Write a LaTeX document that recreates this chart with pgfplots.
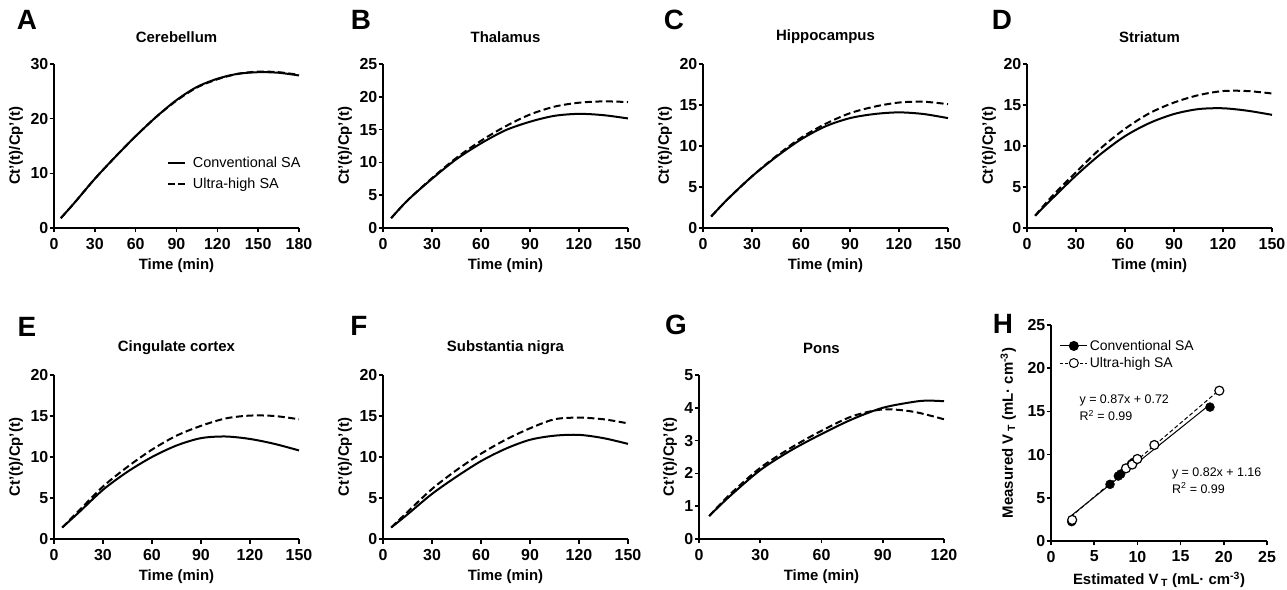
\documentclass[border=0pt]{standalone}
\usepackage{fontspec}
\setmainfont{Liberation Sans}
\usepackage{pgfplots}
\pgfplotsset{compat=1.18}

\newcommand\tickfont{\fontsize{16}{19}\selectfont\bfseries}
\newcommand\labfont{\fontsize{15}{18}\selectfont\bfseries}
\newcommand\legfont{\fontsize{14.5}{17}\selectfont}
\newcommand\letfont{\fontsize{28}{32}\selectfont\bfseries}

\pgfplotsset{
  panel/.style={
    scale only axis, width=245bp, height=164bp,
    anchor=south west,
    axis lines=left, axis line style={-, line width=1.8bp},
    tick align=outside, major tick length=4.5bp,
    tick style={line width=1.6bp, black},
    /pgf/number format/assume math mode=true,
    ticklabel style={font=\tickfont},
    yticklabel style={inner xsep=1bp},
    xticklabel shift=2bp,
    label style={font=\labfont},
    xlabel shift=3bp, ylabel shift=3bp,
    xlabel={Time (min)}, ylabel={Ct'(t)/Cp'(t)},
    title style={font=\labfont, at={(rel axis cs:0.5,1)}, anchor=center, yshift=21bp},
    xmin=0, ymin=0, enlargelimits=false, clip=false,
    xtick={0,30,...,180},
  },
  conv/.style={black, line width=2bp, smooth},
  ultra/.style={black, line width=2bp, smooth, dash pattern=on 7bp off 3.5bp},
}

\begin{document}
\begin{tikzpicture}
\useasboundingbox (0,0) rectangle (1287bp,590bp);

% A Cerebellum
\begin{axis}[panel, at={(54bp,362bp)}, title={Cerebellum},
  xmax=180, ymax=30, ytick={0,10,20,30},
  legend style={at={(rel axis cs:0.46,0.445)}, anchor=north west, draw=none, fill=none,
    font=\legfont, row sep=5bp, inner sep=0pt},
  legend cell align=left,
  legend image code/.code={\draw[#1] (0bp,0bp) -- (17bp,0bp); \path (22bp,0bp);}]
\addplot[conv] coordinates {(5,1.8)(15,4.6)(30,9.0)(45,13.0)(60,16.8)(75,20.3)(90,23.4)(105,25.8)(120,27.3)(135,28.2)(150,28.5)(165,28.4)(180,27.9)};
\addplot[ultra] coordinates {(5,1.8)(15,4.6)(30,9.0)(45,13.0)(60,16.8)(75,20.3)(90,23.3)(105,25.7)(120,27.2)(135,28.2)(150,28.6)(165,28.5)(180,28.0)};
\legend{Conventional SA, Ultra-high SA}
\end{axis}

% B Thalamus
\begin{axis}[panel, at={(383bp,362bp)}, title={Thalamus},
  xmax=150, ymax=25, ytick={0,5,...,25}]
\addplot[conv] coordinates {(5,1.5)(15,4.2)(30,7.5)(45,10.5)(60,12.9)(75,14.9)(90,16.2)(105,17.1)(120,17.4)(135,17.2)(150,16.7)};
\addplot[ultra] coordinates {(5,1.5)(15,4.2)(30,7.6)(45,10.7)(60,13.3)(75,15.5)(90,17.3)(105,18.5)(120,19.1)(135,19.3)(150,19.2)};
\end{axis}

% C Hippocampus
\begin{axis}[panel, at={(703bp,362bp)}, title={Hippocampus},
  xmax=150, ymax=20, ytick={0,5,...,20}]
\addplot[conv] coordinates {(5,1.4)(15,3.5)(30,6.3)(45,8.7)(60,10.8)(75,12.4)(90,13.4)(105,13.9)(120,14.1)(135,13.9)(150,13.4)};
\addplot[ultra] coordinates {(5,1.4)(15,3.5)(30,6.3)(45,8.8)(60,11.0)(75,12.7)(90,14.0)(105,14.8)(120,15.3)(135,15.4)(150,15.1)};
\end{axis}

% D Striatum
\begin{axis}[panel, at={(1027bp,362bp)}, title={Striatum},
  xmax=150, ymax=20, ytick={0,5,...,20}]
\addplot[conv] coordinates {(5,1.5)(15,3.5)(30,6.4)(45,9.0)(60,11.2)(75,12.8)(90,13.9)(105,14.5)(120,14.6)(135,14.3)(150,13.8)};
\addplot[ultra] coordinates {(5,1.5)(15,3.8)(30,6.8)(45,9.7)(60,12.1)(75,14.0)(90,15.3)(105,16.2)(120,16.7)(135,16.7)(150,16.4)};
\end{axis}

% E Cingulate cortex
\begin{axis}[panel, at={(54bp,51bp)}, title={Cingulate cortex},
  xmax=150, ymax=20, ytick={0,5,...,20}]
\addplot[conv] coordinates {(5,1.4)(15,3.2)(30,6.0)(45,8.2)(60,10.0)(75,11.4)(90,12.3)(105,12.5)(120,12.2)(135,11.6)(150,10.8)};
\addplot[ultra] coordinates {(5,1.4)(15,3.4)(30,6.4)(45,8.8)(60,10.9)(75,12.6)(90,13.8)(105,14.7)(120,15.05)(135,15.0)(150,14.6)};
\end{axis}

% F Substantia nigra
\begin{axis}[panel, at={(383bp,51bp)}, title={Substantia nigra},
  xmax=150, ymax=20, ytick={0,5,...,20}]
\addplot[conv] coordinates {(5,1.4)(15,3.0)(30,5.5)(45,7.6)(60,9.5)(75,11.0)(90,12.1)(105,12.6)(120,12.7)(135,12.3)(150,11.6)};
\addplot[ultra] coordinates {(5,1.4)(15,3.3)(30,6.1)(45,8.4)(60,10.4)(75,12.1)(90,13.5)(105,14.6)(120,14.8)(135,14.6)(150,14.1)};
\end{axis}

% G Pons
\begin{axis}[panel, at={(699bp,51bp)}, title={Pons},
  xmax=120, ymax=5, ytick={0,1,...,5}, xtick={0,30,...,120}]
\addplot[conv] coordinates {(5,0.7)(15,1.3)(30,2.1)(45,2.7)(60,3.2)(75,3.65)(90,4.0)(105,4.18)(112,4.22)(120,4.2)};
\addplot[ultra] coordinates {(5,0.7)(15,1.35)(30,2.17)(45,2.78)(60,3.3)(75,3.74)(90,3.95)(105,3.88)(120,3.65)};
\end{axis}

% H Measured vs estimated VT
\begin{axis}[panel, at={(1051bp,49bp)}, width=216bp, height=216bp,
  xmin=0, xmax=25, ymin=0, ymax=25, xtick={0,5,...,25}, ytick={0,5,...,25},
  ylabel shift=7bp,
  xlabel={Estimated V\,\textsubscript{T} (mL· cm\textsuperscript{-3})},
  ylabel={Measured V\,\textsubscript{T} (mL· cm\textsuperscript{-3})},
  legend style={at={(rel axis cs:0.04,0.94)}, anchor=north west, draw=none, fill=none,
    font=\fontsize{14}{16}\selectfont, row sep=1.5bp, inner sep=0pt},
  legend cell align=left,
  legend image code/.code={\draw[mark repeat=2,mark phase=2,#1] plot coordinates {(0bp,0bp) (13.5bp,0bp) (27bp,0bp)};}]
\addlegendimage{black, line width=1bp, mark=*, mark size=4.5bp, mark options={solid, fill=black}}
\addlegendentry{Conventional SA}
\addlegendimage{black, line width=1bp, dash pattern=on 3bp off 2bp, mark=*, mark size=4.5bp, mark options={solid, fill=white, line width=1bp}}
\addlegendentry{Ultra-high SA}
\addplot[black, line width=1bp, forget plot] coordinates {(2.3,2.9)(18.4,15.8)};
\addplot[black, line width=1bp, dash pattern=on 4bp off 2.5bp, forget plot] coordinates {(2.3,2.8)(19.5,17.5)};
\addplot[only marks, mark=*, mark size=4.5bp, mark options={fill=black, draw=black}, forget plot]
  coordinates {(2.39,2.24)(6.83,6.56)(7.79,7.52)(8.07,7.75)(9.3,8.9)(9.53,9.10)(18.4,15.5)};
\addplot[only marks, mark=*, mark size=4.5bp, mark options={fill=white, draw=black, line width=1.2bp}, forget plot]
  coordinates {(2.45,2.44)(8.68,8.41)(9.4,8.85)(9.99,9.49)(11.96,11.11)(19.48,17.4)};
\node[anchor=west, align=left, font=\fontsize{12.5}{15}\selectfont] at (axis cs:2.9,15.4)
  {y = 0.87x + 0.72\\[2bp]R\textsuperscript{2} = 0.99};
\node[anchor=west, align=left, font=\fontsize{12.5}{15}\selectfont] at (axis cs:13.6,7.0)
  {y = 0.82x + 1.16\\[2bp]R\textsuperscript{2} = 0.99};
\end{axis}

% panel letters
\node[font=\letfont] at (27bp,570bp) {A};
\node[font=\letfont] at (361bp,570bp) {B};
\node[font=\letfont] at (674bp,570bp) {C};
\node[font=\letfont] at (1002bp,570bp) {D};
\node[font=\letfont] at (27bp,263bp) {E};
\node[font=\letfont] at (359bp,264bp) {F};
\node[font=\letfont] at (676bp,265bp) {G};
\node[font=\letfont] at (1003bp,266bp) {H};
\end{tikzpicture}
\end{document}
